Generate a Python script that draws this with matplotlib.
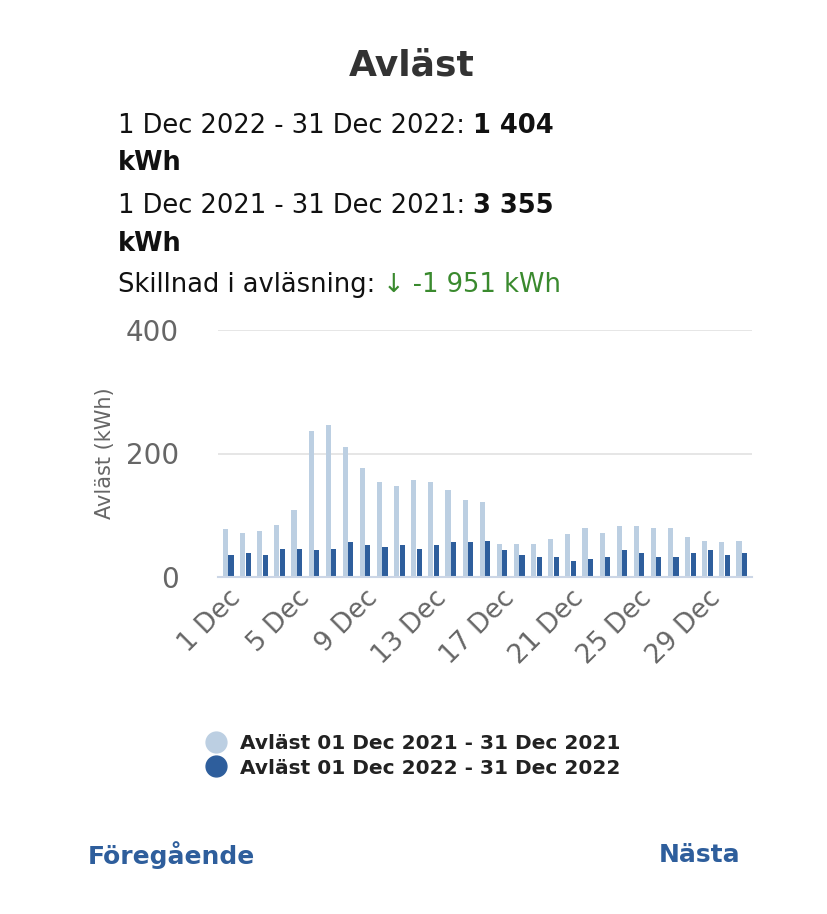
import matplotlib
matplotlib.use("Agg")
import matplotlib.pyplot as plt
import numpy as np

days = list(range(1, 32))
y2021 = [77,72,75,85,108,236,246,210,177,154,148,157,154,141,125,121,
         53,53,53,62,69,79,72,82,82,79,79,65,59,56,59]
y2022 = [36,39,36,46,46,43,46,56,52,49,52,46,52,56,56,59,
         43,36,33,33,26,29,33,43,39,33,33,39,43,36,39]
tick_days = [1,5,9,13,17,21,25,29]
tick_labels = [f"{d} Dec" for d in tick_days]
light = "#bccfe2"
dark = "#2e5e9c"

W, H = 828, 914
fig = plt.figure(figsize=(W/100, H/100), dpi=100)
fig.patch.set_facecolor("white")
renderer = fig.canvas.get_renderer()

def fx(px): return px / W
def fy(py): return 1 - py / H

def after(t, s, **kw):
    bb = t.get_window_extent(renderer)
    return fig.text(bb.x1 / W, t.get_position()[1], s, ha="left", va="center", **kw)

fig.text(fx(412), fy(65), "Avläst", ha="center", va="center", fontsize=26, fontweight="bold", color="#333333")
fs = 18.5
t = fig.text(fx(118), fy(126), "1 Dec 2022 - 31 Dec 2022: ", ha="left", va="center", fontsize=fs, color="#111")
after(t, "1 404", fontsize=fs, fontweight="bold", color="#111")
fig.text(fx(118), fy(163), "kWh", ha="left", va="center", fontsize=fs, fontweight="bold", color="#111")
t = fig.text(fx(118), fy(206), "1 Dec 2021 - 31 Dec 2021: ", ha="left", va="center", fontsize=fs, color="#111")
after(t, "3 355", fontsize=fs, fontweight="bold", color="#111")
fig.text(fx(118), fy(244), "kWh", ha="left", va="center", fontsize=fs, fontweight="bold", color="#111")
t = fig.text(fx(118), fy(285), "Skillnad i avläsning: ", ha="left", va="center", fontsize=fs, color="#111")
after(t, "↓ -1 951 kWh", fontsize=fs, color="#3a8a2e")

ax = fig.add_axes([fx(218), fy(577), fx(752-218), fy(330) - fy(577)])
x = np.arange(len(days))
w = 0.3
ax.bar(x - 0.16, y2021, width=w, color=light)
ax.bar(x + 0.16, y2022, width=w, color=dark)
ax.set_xlim(-0.6, len(days) - 0.4)
ax.set_ylim(0, 400)
ax.set_yticks([0, 200, 400])
ax.yaxis.grid(True, color="#e2e2e2", linewidth=1.2)
ax.set_axisbelow(True)
for s in ["top", "right", "left"]:
    ax.spines[s].set_visible(False)
ax.spines["bottom"].set_color("#ccd6e6")
ax.spines["bottom"].set_linewidth(1.5)
ax.tick_params(axis="y", length=0, labelsize=20, labelcolor="#666", pad=28)
ax.tick_params(axis="x", length=0, labelsize=19, labelcolor="#666", pad=6)
ax.set_xticks([d - 1 for d in tick_days])
ax.set_xticklabels(tick_labels, rotation=45, ha="right", rotation_mode="anchor")
ax.set_ylabel("Avläst (kWh)", fontsize=15, color="#666", labelpad=8)

handles = [plt.Line2D([], [], marker="o", linestyle="", markersize=15, color=c) for c in (light, dark)]
fig.legend(handles, ["Avläst 01 Dec 2021 - 31 Dec 2021", "Avläst 01 Dec 2022 - 31 Dec 2022"],
           loc="center left", bbox_to_anchor=(fx(178), fy(756)), frameon=False,
           prop={"size": 14.5, "weight": "bold"}, handletextpad=0.2, labelspacing=0.25, labelcolor="#222")

fig.text(fx(88), fy(855), "Föregående", ha="left", va="center", fontsize=18, fontweight="bold", color="#2e5e9c")
fig.text(fx(740), fy(855), "Nästa", ha="right", va="center", fontsize=18, fontweight="bold", color="#2e5e9c")

fig.savefig("out.png", dpi=100)
